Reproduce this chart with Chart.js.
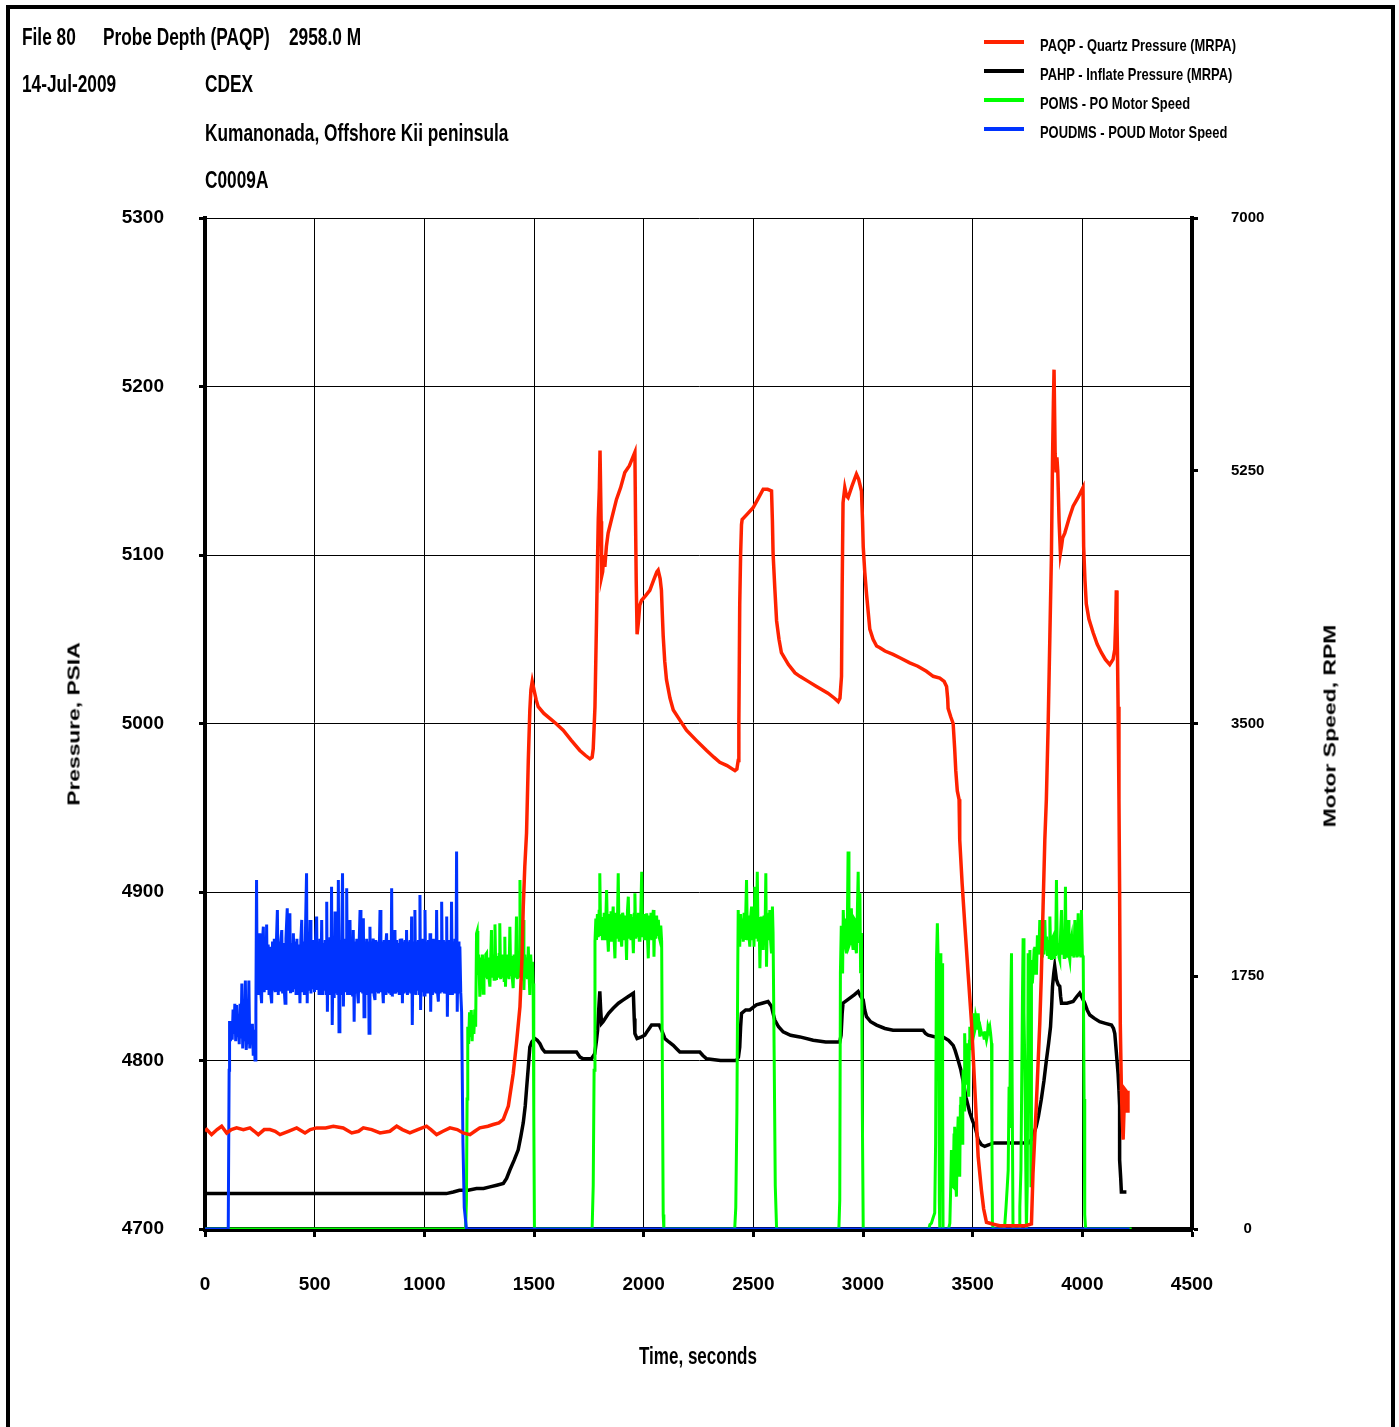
<!DOCTYPE html>
<html>
<head>
<meta charset="utf-8">
<title>File 80 - Probe Depth (PAQP) 2958.0 M</title>
<script src="https://cdn.jsdelivr.net/npm/chart.js@4.4.1/dist/chart.umd.min.js"></script>
<style>
  body { margin: 0; background: #fff; }
  #page { position: relative; width: 1399px; height: 1427px; overflow: hidden;
          font-family: 'Liberation Sans', Arial, sans-serif; font-weight: bold; color: #000; }
  #frame { position: absolute; left: 6px; top: 5px; width: 1381px; height: 1440px;
           border: 4px solid #000; border-bottom: none; }
  canvas { position: absolute; left: 0; top: 0; }
  .txt { position: absolute; white-space: nowrap; line-height: 1; transform-origin: 0 50%; }
  .head { font-size: 24px; transform: scaleX(0.72); }
  .leg-line { position: absolute; left: 984px; width: 40px; height: 4px; }
  .leg-text { font-size: 17px; transform: scaleX(0.76); left: 1040px; }
  .axis-title { position: absolute; white-space: nowrap; line-height: 1; transform-origin: 50% 50%; }
</style>
</head>
<body>
<div id="page">
  <div id="frame"></div>
  <canvas id="chart" width="1399" height="1427"></canvas>

  <div class="txt head" style="left:22px; top:25px">File 80</div>
  <div class="txt head" style="left:103px; top:25px">Probe Depth (PAQP)</div>
  <div class="txt head" style="left:289px; top:25px">2958.0 M</div>
  <div class="txt head" style="left:22px; top:72px">14-Jul-2009</div>
  <div class="txt head" style="left:205px; top:72px">CDEX</div>
  <div class="txt head" style="left:205px; top:121px">Kumanonada, Offshore Kii peninsula</div>
  <div class="txt head" style="left:205px; top:168px">C0009A</div>

  <div id="legend"></div>

  <div class="axis-title" style="left:74px; top:724px; font-size:17px; transform: translate(-50%,-50%) rotate(-90deg) scaleX(1.34)">Pressure, PSIA</div>
  <div class="axis-title" style="left:1330px; top:726px; font-size:17px; transform: translate(-50%,-50%) rotate(-90deg) scaleX(1.35)">Motor Speed, RPM</div>
  <div class="axis-title" style="left:698px; top:1356px; font-size:23px; transform: translate(-50%,-50%) scaleX(0.74)">Time, seconds</div>
</div>

<script>
// tick labels
const timeTicks = [0, 500, 1000, 1500, 2000, 2500, 3000, 3500, 4000, 4500];
const pressureTicks = [4700, 4800, 4900, 5000, 5100, 5200, 5300];
const speedTicks = [0, 1750, 3500, 5250, 7000];

// [time s, psi]
const paqpPoints = [
  [0,4758],[8,4759],[30,4756],[55,4759],[76,4761],[99,4757],[120,4759],[144,4760],[175,4759],[205,4760],
  [225,4758],[243,4756],[270,4759],[296,4759],[320,4758],[342,4756],[380,4758],[418,4760],[456,4757],[480,4759],
  [509,4760],[550,4760],[585,4761],[630,4760],[669,4757],[700,4758],[722,4760],[760,4759],[798,4757],[843,4758],
  [874,4761],[900,4759],[934,4757],[970,4759],[1010,4761],[1030,4759],[1056,4756],[1085,4758],[1117,4760],[1150,4759],
  [1177,4757],[1208,4756],[1230,4758],[1253,4760],[1290,4761],[1314,4762],[1340,4763],[1360,4765],[1383,4773],[1405,4792],
  [1420,4810],[1436,4832],[1445,4860],[1451,4891],[1458,4915],[1466,4935],[1474,4978],[1481,5008],[1486,5020],[1492,5025],
  [1500,5020],[1510,5014],[1519,5010],[1545,5006],[1572,5003],[1600,5000],[1633,4996],[1670,4990],[1709,4984],[1735,4981],
  [1755,4979],[1765,4980],[1770,4985],[1778,5010],[1785,5061],[1790,5100],[1793,5121],[1798,5140],[1801,5162],[1803,5162],
  [1806,5120],[1808,5087],[1813,5090],[1818,5100],[1823,5093],[1830,5105],[1838,5113],[1855,5122],[1876,5133],[1895,5140],
  [1914,5149],[1935,5153],[1960,5161],[1963,5120],[1966,5085],[1970,5053],[1976,5060],[1982,5070],[1990,5073],[2010,5076],
  [2028,5079],[2045,5085],[2060,5090],[2066,5091],[2075,5086],[2081,5079],[2085,5065],[2089,5052],[2096,5037],[2104,5026],
  [2120,5015],[2135,5008],[2165,5002],[2195,4996],[2240,4990],[2287,4984],[2320,4980],[2347,4977],[2380,4975],[2416,4972],
  [2425,4973],[2431,4978],[2434,5000],[2438,5071],[2442,5100],[2446,5118],[2449,5121],[2470,5124],[2499,5128],[2520,5133],
  [2545,5139],[2565,5139],[2583,5138],[2587,5120],[2590,5101],[2598,5080],[2606,5061],[2617,5050],[2628,5042],[2660,5035],
  [2690,5030],[2712,5028],[2750,5025],[2788,5022],[2840,5018],[2870,5015],[2887,5013],[2895,5015],[2902,5028],[2905,5080],
  [2909,5131],[2917,5140],[2925,5135],[2932,5134],[2950,5141],[2970,5148],[2980,5145],[2993,5138],[2998,5120],[3001,5105],
  [3008,5090],[3016,5077],[3031,5056],[3046,5050],[3062,5046],[3077,5045],[3100,5043],[3137,5041],[3168,5039],[3213,5036],
  [3250,5034],[3289,5031],[3320,5028],[3350,5027],[3370,5025],[3381,5022],[3386,5015],[3388,5009],[3400,5004],[3411,5000],
  [3418,4985],[3423,4972],[3430,4960],[3438,4955],[3441,4931],[3452,4905],[3464,4881],[3479,4852],[3495,4822],[3510,4783],
  [3525,4743],[3540,4723],[3550,4712],[3563,4704],[3590,4703],[3623,4702],[3660,4702],[3700,4702],[3740,4702],[3768,4703],
  [3775,4733],[3790,4773],[3806,4822],[3813,4850],[3821,4891],[3829,4931],[3836,4955],[3844,4998],[3852,5052],[3859,5099],
  [3864,5156],[3868,5190],[3871,5210],[3876,5160],[3880,5150],[3884,5158],[3888,5150],[3894,5120],[3900,5101],[3905,5105],
  [3910,5110],[3920,5113],[3940,5122],[3958,5129],[3980,5134],[4003,5140],[4006,5105],[4012,5085],[4018,5071],[4030,5062],
  [4049,5054],[4068,5047],[4087,5042],[4105,5038],[4125,5035],[4140,5038],[4148,5044],[4152,5060],[4155,5079],[4158,5060],
  [4160,5044],[4163,5010],[4167,4955],[4170,4900],[4173,4822],[4178,4783],[4182,4765],[4186,4753],[4190,4770],[4193,4783],
  [4199,4782],[4203,4772],[4206,4770],[4208,4782]
];

// [time s, psi]
const pahpPoints = [
  [0,4721],[500,4721],[1100,4721],[1132,4722],[1160,4723],[1200,4723],[1238,4724],[1270,4724],[1299,4725],[1330,4726],
  [1360,4727],[1375,4730],[1390,4735],[1410,4741],[1428,4747],[1440,4755],[1451,4763],[1460,4773],[1466,4783],[1474,4796],
  [1481,4808],[1490,4811],[1504,4813],[1515,4812],[1527,4810],[1538,4807],[1550,4805],[1600,4805],[1650,4805],[1694,4805],
  [1710,4802],[1724,4801],[1762,4801],[1777,4804],[1785,4812],[1790,4818],[1795,4830],[1800,4841],[1804,4830],[1808,4822],
  [1815,4823],[1840,4828],[1861,4831],[1885,4834],[1907,4836],[1930,4838],[1953,4840],[1957,4825],[1960,4816],[1970,4813],
  [1990,4814],[2005,4815],[2020,4818],[2036,4821],[2055,4821],[2071,4821],[2085,4817],[2097,4813],[2115,4811],[2135,4809],
  [2150,4807],[2165,4805],[2210,4805],[2256,4805],[2270,4803],[2287,4801],[2350,4800],[2423,4800],[2432,4802],[2438,4808],
  [2442,4820],[2446,4828],[2465,4830],[2484,4830],[2514,4833],[2540,4834],[2567,4835],[2583,4832],[2590,4828],[2598,4824],
  [2615,4820],[2636,4817],[2670,4815],[2712,4814],[2773,4812],[2830,4811],[2894,4811],[2900,4815],[2905,4828],[2909,4834],
  [2940,4837],[2960,4839],[2978,4841],[2990,4838],[3001,4836],[3008,4830],[3016,4826],[3035,4823],[3062,4821],[3100,4819],
  [3137,4818],[3200,4818],[3274,4818],[3285,4816],[3297,4815],[3330,4814],[3365,4814],[3390,4812],[3411,4809],[3420,4806],
  [3434,4800],[3445,4795],[3456,4788],[3470,4778],[3487,4769],[3500,4764],[3510,4761],[3518,4757],[3525,4753],[3540,4750],
  [3555,4749],[3575,4750],[3593,4751],[3650,4751],[3700,4751],[3730,4751],[3755,4751],[3768,4753],[3780,4757],[3790,4761],
  [3800,4767],[3813,4777],[3825,4788],[3836,4800],[3846,4810],[3855,4820],[3860,4832],[3864,4844],[3870,4852],[3874,4856],
  [3878,4852],[3882,4848],[3890,4845],[3897,4844],[3901,4838],[3905,4834],[3930,4834],[3958,4835],[3975,4838],[3988,4840],
  [4000,4837],[4011,4834],[4022,4830],[4034,4827],[4055,4825],[4079,4823],[4105,4822],[4133,4821],[4142,4819],[4148,4816],
  [4155,4805],[4163,4792],[4167,4782],[4170,4773],[4170,4741],[4175,4730],[4178,4722],[4201,4722]
];

// [time s, rpm]
const pomsPoints = [
  [0,0],[1188,0],[1192,200],[1195,900],[1198,1400],[1202,1282],[1206,1500],[1210,1330],[1214,1516],[1218,1300],
  [1222,1480],[1226,1350],[1230,1520],[1234,1400],[1238,2047],[1241,2063],[1244,1760],[1248,1900],[1253,1609],[1257,1880],
  [1261,1720],[1265,1900],[1268,1632],[1272,1870],[1276,1740],[1280,1900],[1284,1909],[1288,1730],[1292,1880],[1296,1720],
  [1299,1678],[1303,1890],[1306,2070],[1310,1740],[1314,1900],[1318,1730],[1322,2109],[1326,1760],[1329,1724],[1333,1890],
  [1337,1740],[1341,1900],[1344,2117],[1348,1730],[1352,1880],[1356,1740],[1360,1900],[1364,1720],[1367,2024],[1370,1678],
  [1374,1890],[1378,1740],[1382,1900],[1386,1730],[1390,2093],[1394,1750],[1398,1890],[1402,1720],[1405,1667],[1409,1900],
  [1413,1740],[1417,1880],[1420,2163],[1424,1730],[1428,1900],[1432,1750],[1436,2416],[1440,1740],[1444,1890],[1448,1720],
  [1451,2140],[1454,1655],[1458,1900],[1462,1740],[1466,1880],[1470,1730],[1474,1955],[1478,1740],[1481,1620],[1485,1900],
  [1489,1760],[1493,1850],[1496,1700],[1499,800],[1502,0],
  [1765,0],[1770,300],[1774,1100],[1778,1990],[1782,2150],[1785,2001],[1789,2180],[1793,2020],[1797,2200],[1800,2463],
  [1804,2030],[1808,2160],[1812,2000],[1816,2047],[1820,2190],[1824,2010],[1828,2170],[1831,2347],[1835,2040],[1839,1920],
  [1843,2180],[1847,2000],[1851,2200],[1855,1990],[1858,2150],[1861,2232],[1865,2020],[1869,1874],[1873,2190],[1877,2010],
  [1881,2170],[1884,2463],[1888,2000],[1892,2180],[1896,2020],[1900,1955],[1904,2190],[1907,2163],[1911,2000],[1915,2170],
  [1919,2030],[1922,1863],[1926,2200],[1930,2301],[1934,2010],[1938,2180],[1942,2000],[1946,2160],[1950,2030],[1953,1909],
  [1957,2180],[1960,2324],[1964,2010],[1968,2170],[1972,2020],[1976,2190],[1980,2000],[1983,2001],[1987,2200],[1991,2474],
  [1995,2020],[1999,2160],[2003,2000],[2007,2180],[2011,2010],[2014,2186],[2018,2000],[2021,1874],[2025,2170],[2029,2020],
  [2033,2190],[2037,2000],[2041,2150],[2044,2209],[2047,1886],[2051,2160],[2055,2010],[2059,2170],[2063,2030],[2067,2140],
  [2071,2020],[2074,2001],[2078,2100],[2082,1990],[2086,900],[2089,100],[2092,0],
  [2415,0],[2420,150],[2425,800],[2429,1800],[2431,2209],[2435,2000],[2438,1955],[2442,2180],[2446,2010],[2450,2150],
  [2454,1990],[2458,2190],[2461,2001],[2465,2160],[2469,2416],[2473,2000],[2477,2170],[2481,2010],[2484,1955],[2488,2160],
  [2492,2232],[2496,2000],[2500,2170],[2503,1955],[2507,2370],[2511,2010],[2515,2150],[2518,2474],[2522,1990],[2526,2160],
  [2530,1805],[2534,2100],[2537,2163],[2541,1990],[2545,1932],[2549,2170],[2553,2010],[2557,2463],[2560,1816],[2564,2150],
  [2568,2000],[2572,2180],[2575,2209],[2579,1990],[2583,1909],[2587,2232],[2590,2050],[2595,1200],[2600,300],[2606,0],
  [2890,0],[2894,200],[2897,1770],[2901,2100],[2904,1900],[2907,1770],[2910,2209],[2914,1980],[2918,2150],[2921,1950],
  [2925,1909],[2929,2160],[2932,2613],[2936,1960],[2940,1978],[2944,2170],[2947,2220],[2951,1990],[2955,1932],[2959,2150],
  [2963,2140],[2966,1960],[2970,1909],[2974,2180],[2978,2474],[2982,1990],[2986,2324],[2989,1770],[2993,2050],[2997,800],
  [3001,0],
  [3300,0],[3305,30],[3312,40],[3320,80],[3327,111],[3331,600],[3335,1863],[3339,2116],[3342,1909],[3345,1500],
  [3348,200],[3350,0],[3353,1200],[3355,1909],[3358,570],[3361,1840],[3363,900],[3365,0],[3390,0],[3396,40],
  [3400,300],[3403,547],[3407,300],[3411,293],[3415,650],[3418,708],[3422,350],[3426,224],[3430,600],[3434,778],
  [3437,500],[3441,362],[3444,850],[3446,916],[3449,700],[3452,593],[3455,1000],[3457,1101],[3459,900],[3461,824],
  [3463,1250],[3464,1355],[3468,1100],[3472,1009],[3474,1250],[3476,1286],[3479,1050],[3482,916],[3485,1300],[3487,1401],
  [3491,1280],[3495,1239],[3498,1450],[3502,1493],[3506,1350],[3510,1378],[3514,1470],[3517,1447],[3521,1380],[3525,1493],
  [3529,1400],[3533,1332],[3537,1380],[3541,1350],[3548,1355],[3552,1320],[3556,1370],[3563,1309],[3567,1340],[3570,1401],
  [3574,1380],[3578,1401],[3582,1350],[3586,1286],[3588,600],[3590,39],[3594,0],
  [3640,0],[3646,20],[3652,150],[3658,300],[3662,408],[3666,985],[3669,700],[3673,1500],[3677,1909],[3680,1000],
  [3684,0],[3712,0],[3715,150],[3720,408],[3723,900],[3727,1600],[3730,2013],[3734,1500],[3738,1101],[3741,600],
  [3745,0],[3749,300],[3753,1909],[3757,1200],[3761,1932],[3764,800],[3766,300],[3768,1863],[3772,1700],[3776,1793],
  [3780,1932],[3783,1955],[3787,1770],[3791,1770],[3795,2024],[3798,2024],[3802,1900],[3806,2140],[3810,1920],[3814,1955],
  [3818,1880],[3822,2050],[3825,1900],[3829,2140],[3833,1930],[3837,2024],[3841,1890],[3845,2000],[3849,1880],[3852,2163],
  [3856,1900],[3859,1863],[3863,2010],[3867,2024],[3871,1880],[3874,1980],[3878,1890],[3882,2416],[3886,1900],[3890,1978],
  [3894,1880],[3897,1863],[3901,2050],[3905,2209],[3909,1900],[3913,2024],[3917,1880],[3920,2000],[3923,2370],[3926,1900],
  [3928,1932],[3932,1880],[3935,2140],[3939,1900],[3943,1863],[3947,1990],[3951,2024],[3955,1890],[3958,1932],[3962,1880],
  [3966,2140],[3970,1900],[3973,1955],[3977,1880],[3981,2186],[3985,1900],[3989,2024],[3993,1880],[3996,2209],[4000,1900],
  [4004,1886],[4008,900],[4011,100],[4015,0],[4225,0]
];

// [time s, rpm]
const poudmsPoints = [
  [0,0],[106,0],[110,1100],[112,1440],[116,1300],[120,1440],[124,1310],[128,1520],[132,1350],[136,1560],
  [140,1300],[144,1550],[148,1330],[152,1420],[156,1280],[160,1560],[164,1320],[168,1700],[172,1250],[176,1440],
  [180,1300],[184,1720],[188,1240],[192,1390],[196,1280],[200,1720],[204,1250],[208,1400],[212,1300],[216,1420],
  [220,1200],[224,1380],[228,1170],[232,1500],[235,2416],[238,1660],[242,2000],[246,1620],[250,2047],[254,1650],
  [258,1563],[262,1990],[266,2093],[270,1640],[274,1980],[278,1660],[281,2109],[284,1655],[288,1970],[292,1630],
  [296,1955],[300,1620],[304,1563],[308,1990],[312,1650],[316,2010],[320,1640],[325,1960],[330,2209],[334,1620],
  [338,1990],[342,1655],[346,2000],[350,2070],[354,1630],[358,1980],[362,1640],[365,1563],[369,2010],[375,2220],
  [379,1650],[383,1990],[387,2186],[390,1632],[395,1980],[399,1640],[403,2047],[407,1660],[411,1990],[415,1630],
  [419,2010],[423,1650],[427,1970],[433,1563],[437,2000],[441,2140],[445,1640],[449,1990],[453,1620],[457,1980],
  [463,2463],[466,1563],[470,2010],[474,1650],[479,2140],[483,1630],[487,1990],[491,1660],[495,2000],[499,1640],
  [503,1970],[509,2163],[512,1655],[516,1990],[520,1630],[524,2010],[528,1640],[532,2140],[536,1620],[540,1980],
  [544,1650],[548,2000],[552,1630],[555,2266],[558,1505],[562,1990],[566,1620],[570,2020],[574,1640],[577,2370],
  [580,1413],[585,1990],[589,1600],[593,2198],[597,1630],[601,1980],[605,1620],[608,2416],[611,1366],[615,2000],
  [619,1620],[623,1990],[627,2463],[631,1540],[635,2010],[639,1640],[643,1980],[646,2359],[650,1620],[654,2000],
  [658,1630],[661,2140],[665,1640],[669,1990],[673,1610],[676,2070],[680,1435],[684,1990],[688,1630],[692,2010],
  [696,1620],[699,1563],[703,1990],[707,2209],[711,1640],[715,2000],[719,1630],[722,2151],[725,1470],[729,1990],
  [733,1640],[737,2010],[741,1620],[745,1990],[748,1355],[752,2093],[756,1640],[760,1990],[764,1630],[767,2012],
  [771,1620],[775,1586],[779,2000],[783,1640],[787,1990],[791,1630],[798,2209],[802,1640],[806,1990],[810,1650],
  [813,1563],[817,2000],[821,1630],[825,1980],[828,2047],[832,1640],[836,2000],[840,1630],[844,1990],[848,1620],
  [851,2359],[854,1609],[858,1990],[862,1640],[866,2070],[870,1630],[874,2000],[878,1640],[882,1980],[886,1620],
  [890,2010],[894,1640],[897,2012],[900,1563],[904,1990],[908,1630],[912,2000],[916,1640],[919,2070],[923,1620],
  [927,1990],[931,1640],[935,2000],[938,1630],[942,2163],[945,1413],[949,1990],[953,1640],[957,2209],[961,1620],
  [965,1990],[969,1650],[973,2000],[977,1630],[980,2313],[983,1516],[987,1990],[991,1640],[995,2010],[999,1620],
  [1003,2209],[1007,1640],[1011,1990],[1015,1630],[1019,2000],[1023,1640],[1026,2047],[1029,1505],[1033,1990],[1037,1620],
  [1041,2010],[1045,1640],[1049,1990],[1053,1630],[1056,2209],[1060,1640],[1064,1574],[1068,2000],[1072,1630],[1076,1990],
  [1079,2266],[1083,1640],[1087,2000],[1091,1630],[1095,1990],[1099,1640],[1102,2163],[1105,1470],[1109,2000],[1113,1630],
  [1117,1990],[1121,1640],[1124,2266],[1128,1620],[1132,1990],[1136,1630],[1140,2010],[1144,1640],[1147,2613],[1150,1505],
  [1154,1990],[1158,1630],[1162,1955],[1166,1640],[1170,1500],[1176,600],[1182,150],[1192,0],[4215,0]
];

const toXY = pts => pts.map(p => ({ x: p[0], y: p[1] }));

document.addEventListener('DOMContentLoaded', function() {
    const tickFont = { family: "'Liberation Sans', Arial, sans-serif", size: 19, weight: 'bold' };
    const plainLabel = v => String(v);

    const ctx = document.getElementById('chart').getContext('2d');
    const chart = new Chart(ctx, {
        type: 'line',
        data: {
            datasets: [
                { label: 'PAQP - Quartz Pressure (MRPA)', data: toXY(paqpPoints), yAxisID: 'y',
                  borderColor: '#ff2200', borderWidth: 3.5, order: 1 },
                { label: 'PAHP - Inflate Pressure (MRPA)', data: toXY(pahpPoints), yAxisID: 'y',
                  borderColor: '#000000', borderWidth: 3.5, order: 4 },
                { label: 'POMS - PO Motor Speed', data: toXY(pomsPoints), yAxisID: 'y1',
                  borderColor: '#00ff00', borderWidth: 3, order: 3 },
                { label: 'POUDMS - POUD Motor Speed', data: toXY(poudmsPoints), yAxisID: 'y1',
                  borderColor: '#0033ff', borderWidth: 3, order: 2 }
            ]
        },
        options: {
            responsive: false,
            animation: false,
            devicePixelRatio: 1,
            layout: { padding: { top: 218, left: 0, right: 0, bottom: 0 } },
            elements: { point: { radius: 0 }, line: { tension: 0, fill: false } },
            plugins: { legend: { display: false }, tooltip: { enabled: false } },
            scales: {
                x: {
                    type: 'linear', min: 0, max: 4500,
                    afterBuildTicks: s => { s.ticks = timeTicks.map(v => ({ value: v })); },
                    afterFit: s => { s.height = 198; },
                    grid: { color: '#000', lineWidth: 1, tickLength: 8, tickWidth: 3, tickColor: '#000' },
                    border: { color: '#000', width: 5 },
                    ticks: { color: '#000', font: tickFont, padding: 36, maxRotation: 0, callback: plainLabel }
                },
                y: {
                    position: 'left', min: 4700, max: 5300,
                    afterBuildTicks: s => { s.ticks = pressureTicks.map(v => ({ value: v })); },
                    afterFit: s => { s.width = 205; },
                    grid: { color: '#000', lineWidth: 1, tickLength: 6, tickWidth: 3, tickColor: '#000' },
                    border: { color: '#000', width: 4 },
                    ticks: { color: '#000', font: tickFont, padding: 35, callback: plainLabel }
                },
                y1: {
                    position: 'right', min: 0, max: 7000,
                    afterBuildTicks: s => { s.ticks = speedTicks.map(v => ({ value: v })); },
                    afterFit: s => { s.width = 207; },
                    grid: { drawOnChartArea: false, tickLength: 6, tickWidth: 3, tickColor: '#000' },
                    border: { color: '#000', width: 4 },
                    ticks: { color: '#000', crossAlign: 'center', padding: 33, callback: plainLabel,
                             font: { family: "'Liberation Sans', Arial, sans-serif", size: 15, weight: 'bold' } }
                }
            }
        }
    });

    // legend built from the datasets
    const legend = document.getElementById('legend');
    const legendY = [42, 71, 100, 129];
    chart.data.datasets.forEach((ds, i) => {
        const line = document.createElement('div');
        line.className = 'leg-line';
        line.style.top = (legendY[i] - 2) + 'px';
        line.style.background = ds.borderColor;
        legend.appendChild(line);

        const text = document.createElement('div');
        text.className = 'txt leg-text';
        text.style.top = (legendY[i] + 3 - 8.5) + 'px';
        text.textContent = ds.label;
        legend.appendChild(text);
    });
});
</script>
</body>
</html>
